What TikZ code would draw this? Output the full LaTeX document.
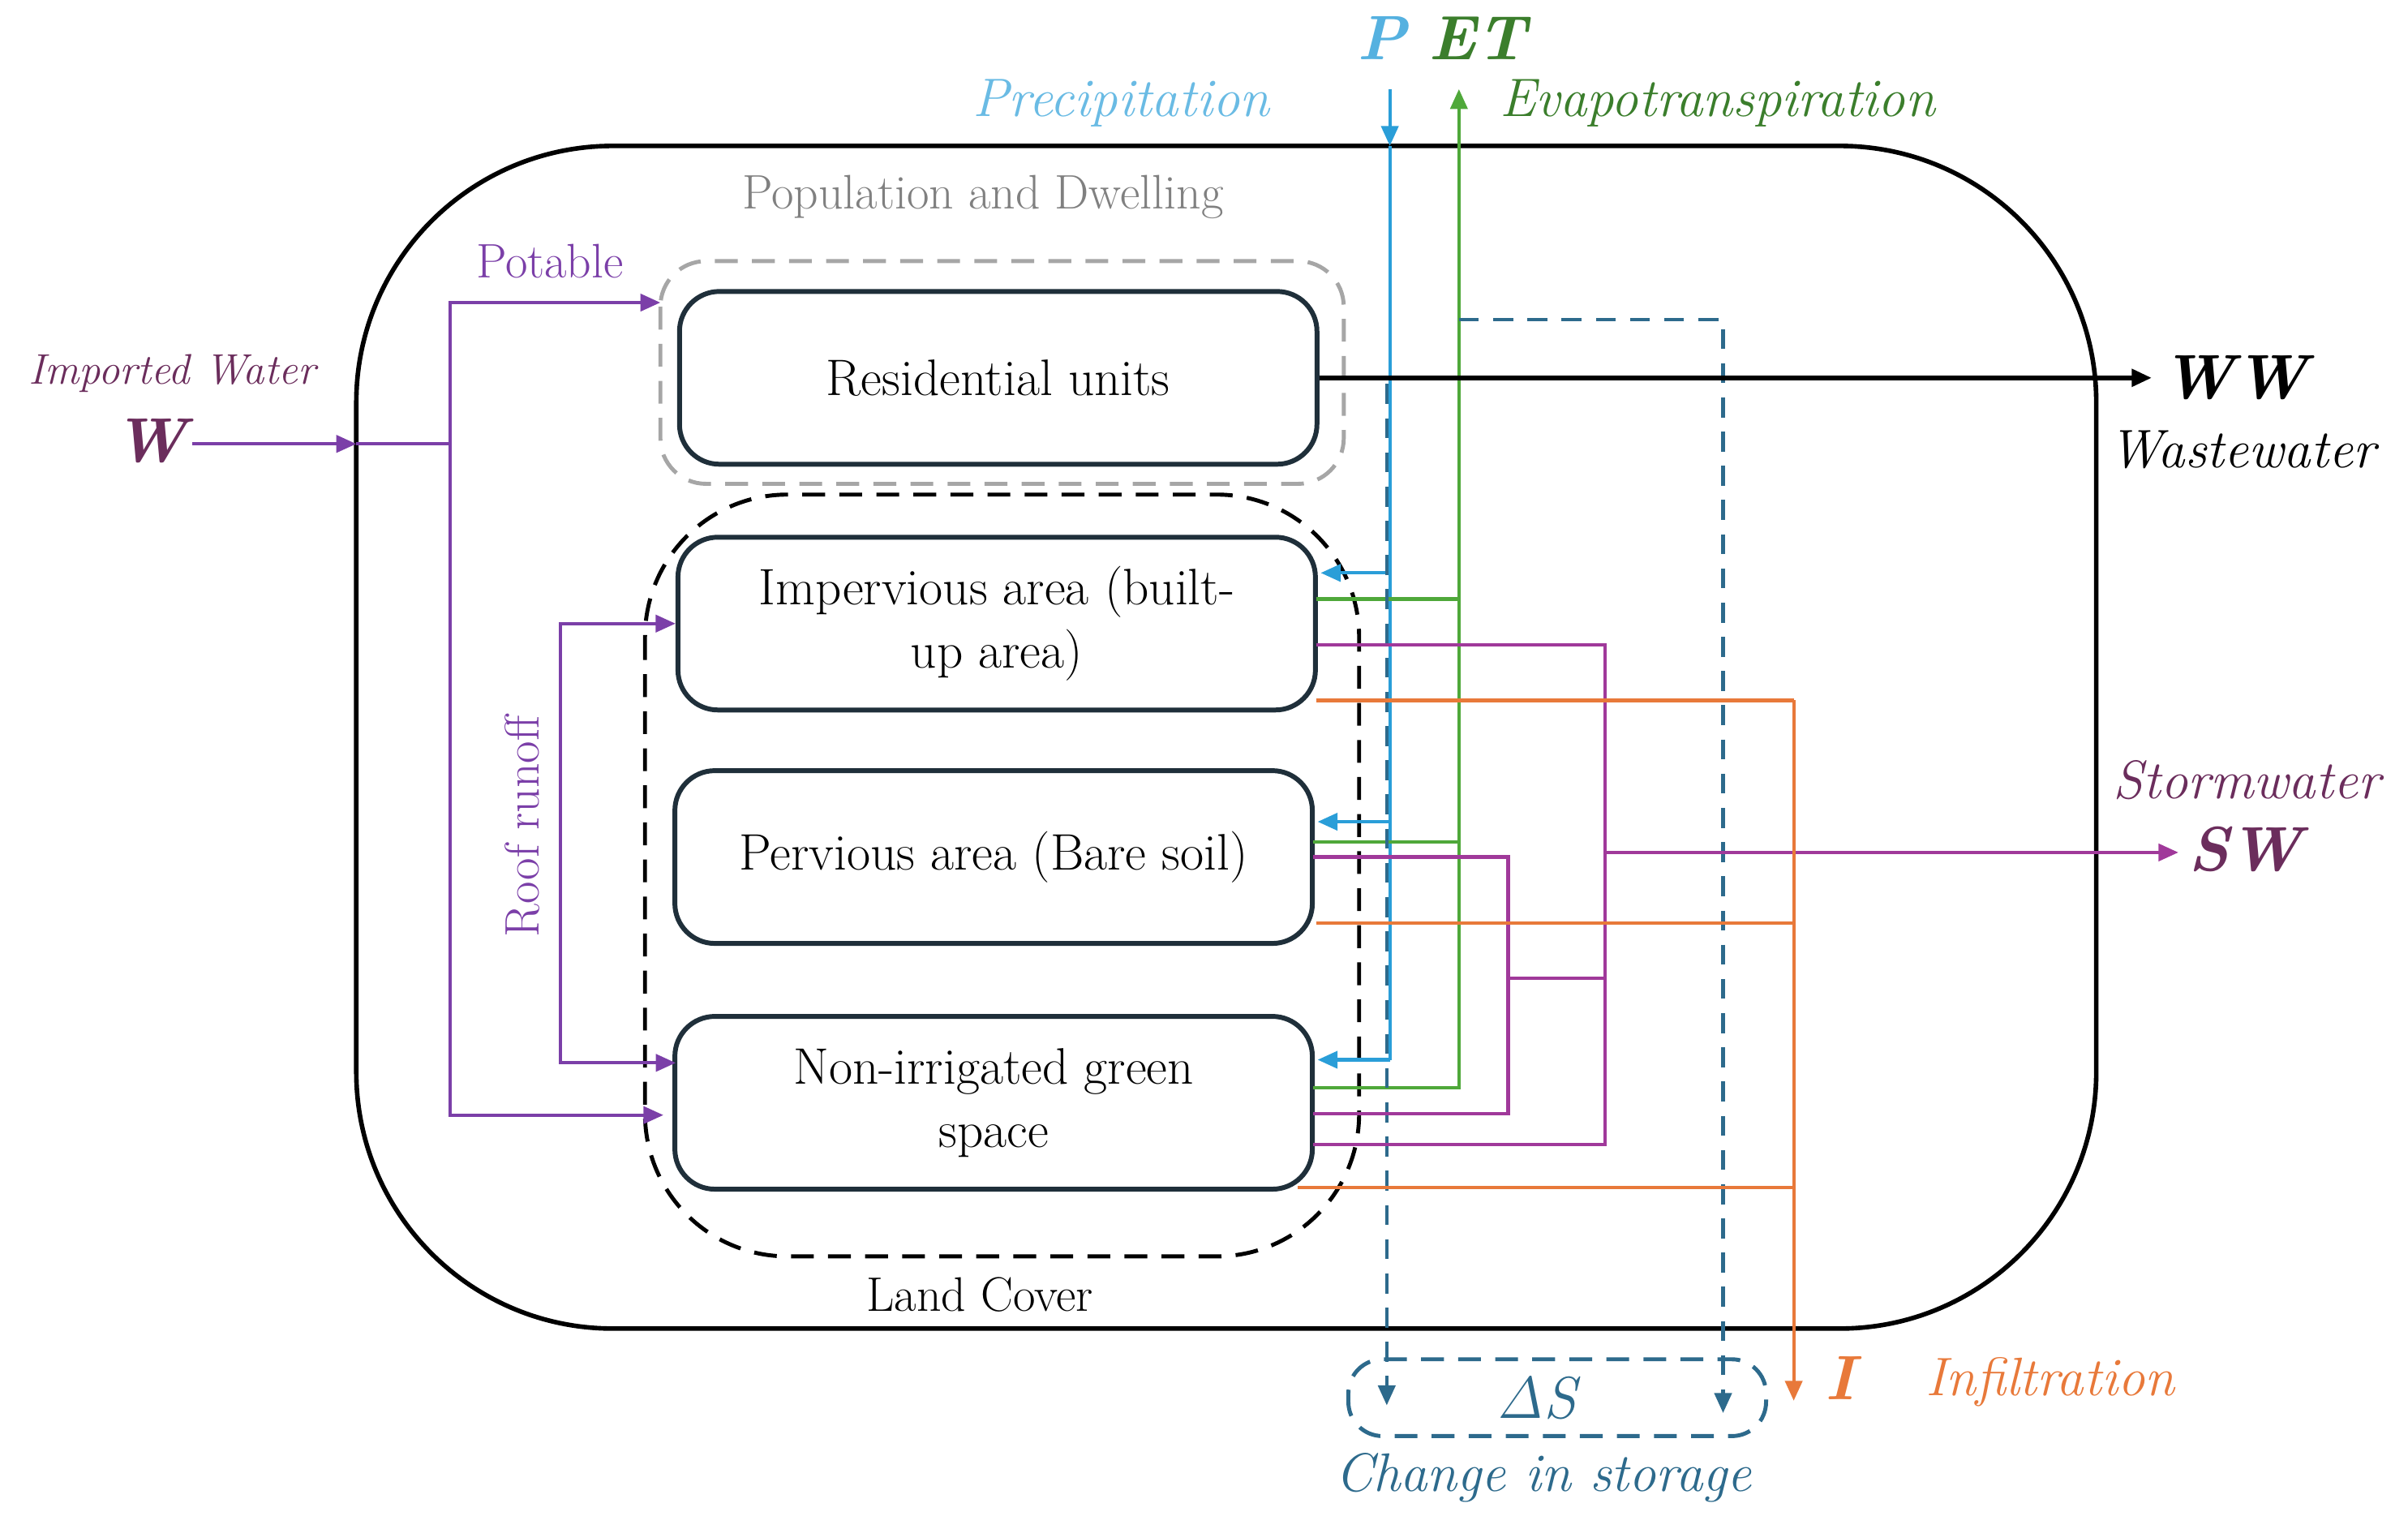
\documentclass[tikz,border=0pt]{standalone}
\usetikzlibrary{arrows.meta}
\definecolor{cpur}{HTML}{7B3FA8}
\definecolor{cmag}{HTML}{A0399A}
\definecolor{cblu}{HTML}{2A9ED8}
\definecolor{cgrn}{HTML}{4FA83A}
\definecolor{corg}{HTML}{E8793A}
\definecolor{cdsh}{HTML}{2D6A8C}
\definecolor{cdw}{HTML}{6B2D5C}
\definecolor{cbox}{HTML}{1F2F3A}
\begin{document}
\begin{tikzpicture}[x=0.01893cm,y=-0.01893cm,
  box/.style={draw=cbox,line width=1.7pt,rounded corners=14pt,align=center,font=\fontsize{18}{22}\selectfont,
     minimum width=7.86cm,minimum height=2.13cm,inner sep=0pt},
  ln/.style={line width=1.2pt},
  tip/.style={-{Triangle[length=7pt,width=6pt]}},
  lab/.style={font=\fontsize{17}{20}\selectfont\itshape}]
\useasboundingbox (0,0) rectangle (1568,995);
% outer
\draw[line width=1.6pt,rounded corners=90] (232,95) rectangle (1365,865);
\draw[gray!70,line width=1.4pt,dash pattern=on 8pt off 5pt,rounded corners=16pt] (430,170) rectangle (875,315);
\draw[black,line width=1.4pt,dash pattern=on 8pt off 5pt,rounded corners=50pt] (420,322) rectangle (885,818);
\node[font=\fontsize{17}{20}\selectfont,text=gray] (pop) at (640,128) {Population and Dwelling};
\node[font=\fontsize{17}{20}\selectfont] (lc) at (638,843) {Land Cover};
% boxes
\node[box] (res) at (650,246) {Residential units};
\node[box] (imp) at (649,406) {Impervious area (built-\\up area)};
\node[box] (per) at (647,558) {Pervious area (Bare soil)};
\node[box] (non) at (647,718) {Non-irrigated green\\space};
% imported water
\node[font=\fontsize{22}{24}\selectfont\bfseries\itshape,text=cdw] (W) at (98,287) {W};
\node[text=cdw,font=\fontsize{15}{18}\selectfont\itshape] (iw) at (112,243) {Imported Water};
\node[font=\fontsize{17}{20}\selectfont,text=cpur] (pot) at (358,170) {Potable};
\coordinate (wj) at (293,289);
\coordinate (w0) at (125,289);
\draw[ln,cpur,tip] (w0) -- (232,289);
\draw[ln,cpur] (232,289) -- (wj);
\draw[ln,cpur,tip] (wj) |- (430,197);
\draw[ln,cpur,tip] (wj) |- (432,726);
\coordinate (rj) at (365,550);
\draw[ln,cpur,tip] (rj) |- (imp.west);
\draw[ln,cpur,tip] (rj) |- (440,692);
\node[font=\fontsize{17}{20}\selectfont,text=cpur,rotate=90] (rr) at (340,538) {Roof runoff};
% P and ET
\node[font=\fontsize{22}{24}\selectfont\bfseries\itshape,text=cblu!80] (P) at (900,25) {P};
\node[font=\fontsize{22}{24}\selectfont\bfseries\itshape,text=cgrn!75!black] (ET) at (962,25) {ET};
\node[text=cblu!70,font=\fontsize{19}{22}\selectfont\itshape] (prec) at (730,67) {Precipitation};
\node[text=cgrn!75!black,font=\fontsize{19}{22}\selectfont\itshape,anchor=west] (evap) at (970,67) {Evapotranspiration};
\coordinate (ptop) at (905,58);
\draw[ln,cblu,tip] (ptop) -- (905,95);
\draw[ln,cblu] (905,95) -- (905,690);
\draw[ln,cblu,tip] (905,373) -- (860,373);
\draw[ln,cblu,tip] (905,535) -- (858,535);
\draw[ln,cblu,tip] (905,690) -- (858,690);
\coordinate (ettop) at (950,58);
\draw[ln,cgrn] (857,390) -- (950,390);
\draw[ln,cgrn] (855,548) -- (950,548);
\draw[ln,cgrn] (855,708) -- (950,708) -- (950,100);
\draw[ln,cgrn,tip] (950,100) -- (ettop);
% storage
\draw[ln,cdsh,dash pattern=on 7pt off 5pt,tip] (903,250) -- (903,915);
\draw[ln,cdsh,dash pattern=on 7pt off 5pt,tip] (950,208) -- (1122,208) -- (1122,920);
\draw[cdsh,line width=1.4pt,dash pattern=on 8pt off 5pt,rounded corners=12pt] (878,885) rectangle (1150,935);
\node[font=\fontsize{20}{22}\selectfont\itshape,text=cdsh] (dS) at (1003,910) {$\mathit{\Delta S}$};
\node[text=cdsh,font=\fontsize{19}{22}\selectfont\itshape] (cis) at (1005,962) {Change in storage};
% wastewater
\node[font=\fontsize{22}{24}\selectfont\bfseries\itshape] (WW) at (1455,246) {WW};
\node[font=\fontsize{19}{22}\selectfont\itshape] (wwl) at (1460,293) {Wastewater};
\draw[line width=1.6pt,tip] (res.east) -- (res.east -| WW.west);
% stormwater
\draw[ln,cmag] (857,420) -- (1045,420) -- (1045,745) -- (855,745);
\draw[ln,cmag] (855,558) -- (982,558) -- (982,725) -- (855,725);
\draw[ln,cmag] (982,637) -- (1045,637);
\node[font=\fontsize{22}{24}\selectfont\bfseries\itshape,text=cdw] (SW) at (1462,553) {SW};
\node[text=cdw,font=\fontsize{19}{22}\selectfont\itshape] (swl) at (1463,508) {Stormwater};
\coordinate (sj) at (1045,555);
\draw[ln,cmag,tip] (sj) -- (sj -| SW.west);
% infiltration
\draw[ln,corg] (857,456) -- (1168,456);
\draw[ln,corg] (857,601) -- (1168,601);
\draw[ln,corg] (845,773) -- (1168,773);
\node[font=\fontsize{22}{24}\selectfont\bfseries\itshape,text=corg] (I) at (1198,897) {I};
\node[text=corg,font=\fontsize{19}{22}\selectfont\itshape] (infl) at (1335,900) {Infiltration};
\draw[ln,corg,tip] (1168,456) -- (1168,912);
\end{tikzpicture}
\end{document}
